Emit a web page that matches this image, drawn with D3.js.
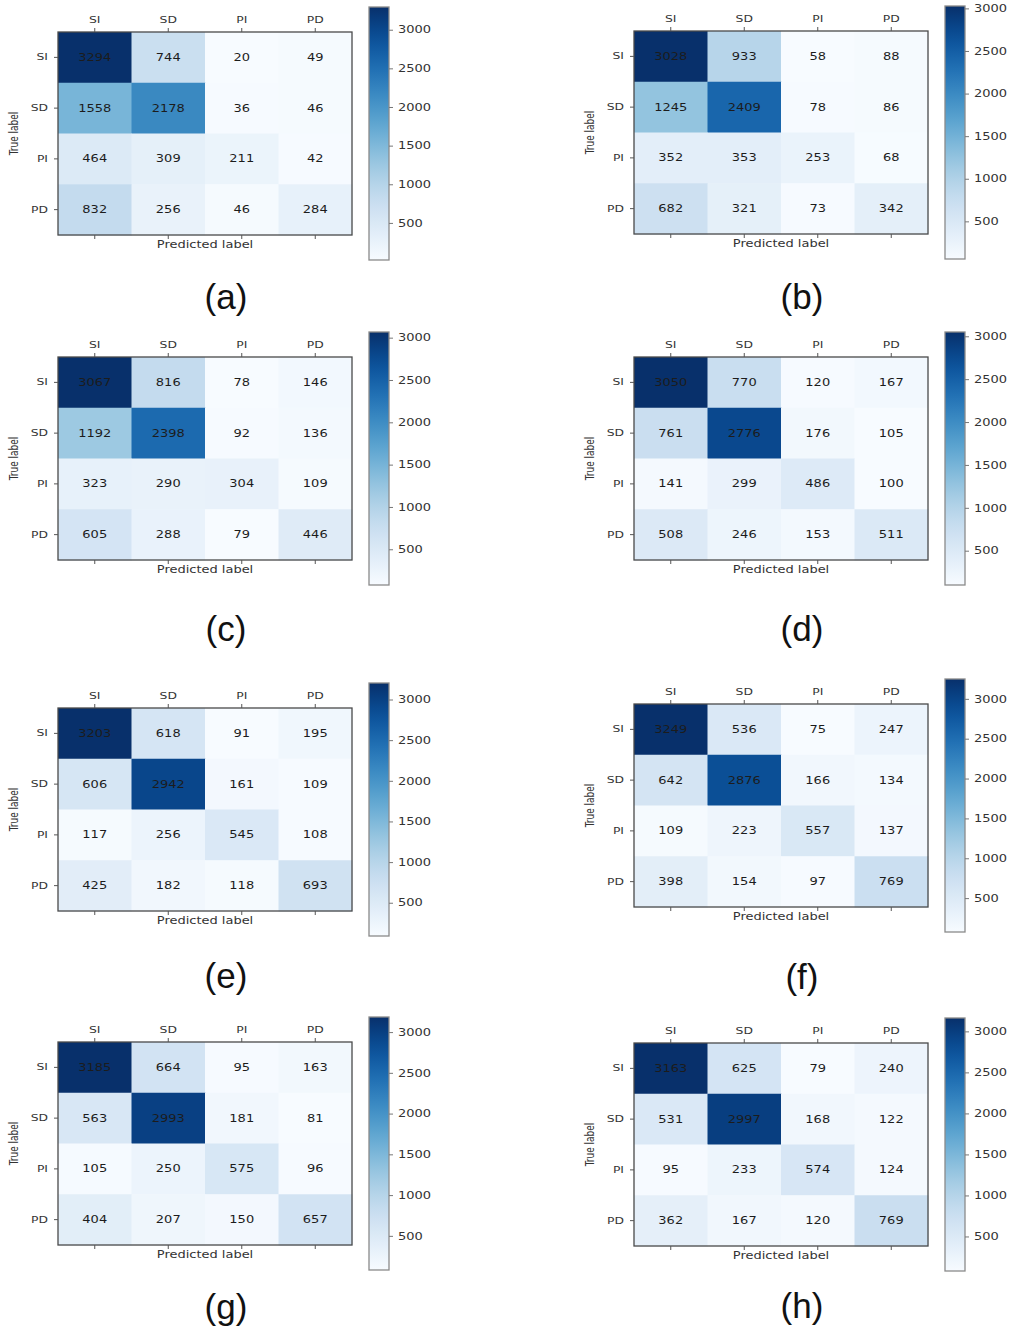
<!DOCTYPE html>
<html>
<head>
<meta charset="utf-8">
<script src="https://cdn.jsdelivr.net/npm/d3@7"></script>
<style>
  body { margin: 0; background: #fff; }
  text { font-family: "DejaVu Sans", sans-serif; }
</style>
</head>
<body>
<div id="chart"></div>
<script>
// Data
const categories = ['SI', 'SD', 'PI', 'PD']
const panelLabels = ['(a)', '(b)', '(c)', '(d)', '(e)', '(f)', '(g)', '(h)']
const colorbarTicks = [500, 1000, 1500, 2000, 2500, 3000]

const cmA = [[3294, 744, 20, 49], [1558, 2178, 36, 46], [464, 309, 211, 42], [832, 256, 46, 284]]
const cmB = [[3028, 933, 58, 88], [1245, 2409, 78, 86], [352, 353, 253, 68], [682, 321, 73, 342]]
const cmC = [[3067, 816, 78, 146], [1192, 2398, 92, 136], [323, 290, 304, 109], [605, 288, 79, 446]]
const cmD = [[3050, 770, 120, 167], [761, 2776, 176, 105], [141, 299, 486, 100], [508, 246, 153, 511]]
const cmE = [[3203, 618, 91, 195], [606, 2942, 161, 109], [117, 256, 545, 108], [425, 182, 118, 693]]
const cmF = [[3249, 536, 75, 247], [642, 2876, 166, 134], [109, 223, 557, 137], [398, 154, 97, 769]]
const cmG = [[3185, 664, 95, 163], [563, 2993, 181, 81], [105, 250, 575, 96], [404, 207, 150, 657]]
const cmH = [[3163, 625, 79, 240], [531, 2997, 168, 122], [95, 233, 574, 124], [362, 167, 120, 769]]

const matrices = [cmA, cmB, cmC, cmD, cmE, cmF, cmG, cmH]

// Layout: top-left corner of each matrix box, and caption baseline
const panelPos = [
  { x: 58, y: 32, cap: 309 },
  { x: 634, y: 31, cap: 309 },
  { x: 58, y: 357, cap: 641 },
  { x: 634, y: 357, cap: 641 },
  { x: 58, y: 708, cap: 988 },
  { x: 634, y: 704, cap: 989 },
  { x: 58, y: 1042, cap: 1319 },
  { x: 634, y: 1043, cap: 1318 },
]

let dimensions = {
  width: 1012,
  height: 1331,
  boxW: 294,
  boxH: 203,
  cbGap: 17,
  cbW: 20,
  cbH: 253,
  cbTop: -25,
}

const stretch = 1.3 // the source text is widened horizontally

const svg = d3.select('#chart')
  .append('svg')
  .attr('width', dimensions.width)
  .attr('height', dimensions.height)

const defs = svg.append('defs')

matrices.forEach((cm, i) => drawPanel(cm, i))

function drawPanel(cm, i) {
  const pos = panelPos[i]
  const flat = cm.flat()
  const vmin = d3.min(flat)
  const vmax = d3.max(flat)

  const x = d3.scaleBand().domain(categories).range([0, dimensions.boxW])
  const y = d3.scaleBand().domain(categories).range([0, dimensions.boxH])
  const color = d3.scaleSequential(d3.interpolateBlues).domain([vmin, vmax])

  const ctr = svg.append('g')
    .attr('transform', `translate(${pos.x}, ${pos.y})`)

  const cells = []
  cm.forEach((row, r) => row.forEach((v, c) => {
    cells.push({ t: categories[r], p: categories[c], v: v })
  }))

  ctr.append('g')
    .selectAll('rect')
    .data(cells)
    .join('rect')
    .attr('x', d => x(d.p))
    .attr('y', d => y(d.t))
    .attr('width', x.bandwidth() + 0.5)
    .attr('height', y.bandwidth() + 0.5)
    .attr('fill', d => color(d.v))

  ctr.append('g')
    .selectAll('text')
    .data(cells)
    .join('text')
    .attr('transform', d =>
      `translate(${x(d.p) + x.bandwidth() / 2}, ${y(d.t) + y.bandwidth() / 2}) scale(${stretch},1)`)
    .attr('text-anchor', 'middle')
    .attr('dy', '0.36em')
    .style('font-size', '10px')
    .style('fill', '#1c1c1c')
    .text(d => d.v)

  // box
  ctr.append('rect')
    .attr('width', dimensions.boxW)
    .attr('height', dimensions.boxH)
    .attr('fill', 'none')
    .attr('stroke', '#4a4a4a')
    .attr('stroke-width', 1.3)

  // axes
  const topAxis = ctr.append('g')
    .call(d3.axisTop(x).tickSize(4).tickPadding(5))
  const bottomAxis = ctr.append('g')
    .attr('transform', `translate(0, ${dimensions.boxH})`)
    .call(d3.axisBottom(x).tickSize(4).tickFormat(''))
  const leftAxis = ctr.append('g')
    .call(d3.axisLeft(y).tickSize(4).tickPadding(6))

  ;[topAxis, bottomAxis, leftAxis].forEach(a => {
    a.select('.domain').remove()
    a.selectAll('line').attr('stroke', '#555')
    a.selectAll('text')
      .style('font-size', '9.5px')
      .style('fill', '#333')
  })
  topAxis.selectAll('text').attr('transform', `scale(${stretch},1)`)
  leftAxis.selectAll('text')
    .attr('x', 0)
    .attr('transform', `translate(-10,0) scale(${stretch},1)`)

  ctr.append('text')
    .attr('transform', `translate(${dimensions.boxW / 2}, ${dimensions.boxH + 13}) scale(${stretch},1)`)
    .attr('text-anchor', 'middle')
    .style('font-size', '10px')
    .style('fill', '#333')
    .text('Predicted label')

  ctr.append('text')
    .attr('transform', `translate(-40, ${dimensions.boxH / 2}) rotate(-90) scale(1,${stretch})`)
    .attr('text-anchor', 'middle')
    .style('font-size', '9px')
    .style('fill', '#333')
    .text('True label')

  // colorbar
  const gradId = 'grad' + i
  const grad = defs.append('linearGradient')
    .attr('id', gradId)
    .attr('x1', 0).attr('y1', 1).attr('x2', 0).attr('y2', 0)
  grad.selectAll('stop')
    .data(d3.range(0, 1.0001, 0.05))
    .join('stop')
    .attr('offset', t => t)
    .attr('stop-color', t => color(vmin + t * (vmax - vmin)))

  const cbX = dimensions.boxW + dimensions.cbGap
  const cb = ctr.append('g')
    .attr('transform', `translate(${cbX}, ${dimensions.cbTop})`)

  cb.append('rect')
    .attr('width', dimensions.cbW)
    .attr('height', dimensions.cbH)
    .attr('fill', `url(#${gradId})`)
    .attr('stroke', '#8a8a8a')
    .attr('stroke-width', 1.3)

  const cScale = d3.scaleLinear().domain([vmin, vmax]).range([dimensions.cbH, 0])
  const cAxis = cb.append('g')
    .attr('transform', `translate(${dimensions.cbW}, 0)`)
    .call(d3.axisRight(cScale).tickValues(colorbarTicks).tickFormat(d3.format('d'))
      .tickSize(4).tickPadding(5))
  cAxis.select('.domain').remove()
  cAxis.selectAll('line').attr('stroke', '#777')
  cAxis.selectAll('text')
    .attr('x', 0)
    .attr('transform', `translate(9,0) scale(${stretch},1)`)
    .style('font-size', '10px')
    .style('fill', '#333')

  // caption
  svg.append('text')
    .attr('x', pos.x + 168)
    .attr('y', pos.cap)
    .attr('text-anchor', 'middle')
    .style('font-family', '"Liberation Sans", Arial, sans-serif')
    .style('font-size', '35px')
    .style('fill', '#111')
    .text(panelLabels[i])
}
</script>
</body>
</html>
